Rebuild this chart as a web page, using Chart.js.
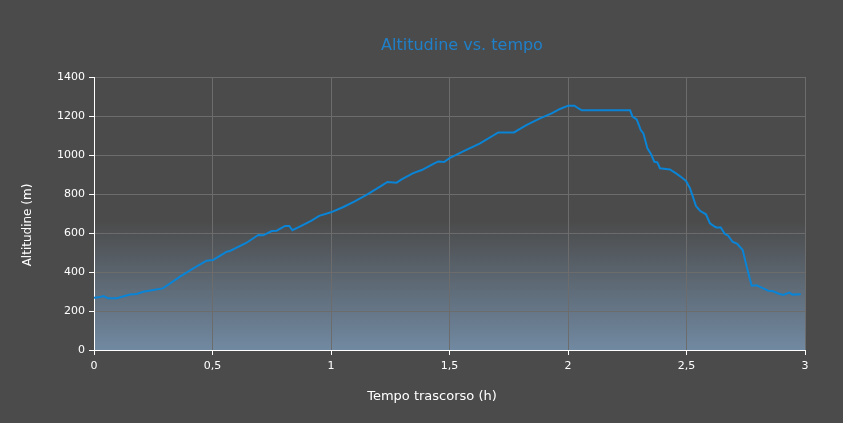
<!DOCTYPE html>
<html>
<head>
<meta charset="utf-8">
<script src="https://cdn.jsdelivr.net/npm/chart.js@4"></script>
<style>
  html, body { margin: 0; padding: 0; background: #4b4b4b; }
  #wrap { width: 843px; height: 423px; }
</style>
</head>
<body>
<div id="wrap"><canvas id="altitude" width="843" height="423"></canvas></div>
<script>
// tempo trascorso (h)
const hours = [
  0, 0.02, 0.04, 0.06, 0.096, 0.152, 0.18, 0.208, 0.25, 0.29,
  0.32, 0.363, 0.419, 0.475, 0.503, 0.56, 0.574, 0.644, 0.693, 0.714,
  0.75, 0.771, 0.806, 0.824, 0.837, 0.862, 0.918, 0.95, 1.0, 1.05,
  1.1, 1.15, 1.207, 1.238, 1.277, 1.298, 1.347, 1.383, 1.432, 1.453,
  1.477, 1.502, 1.56, 1.629, 1.706, 1.772, 1.826, 1.882, 1.931, 1.966,
  2.001, 2.027, 2.048, 2.058, 2.262, 2.272, 2.29, 2.307, 2.318, 2.335,
  2.35, 2.364, 2.377, 2.388, 2.43, 2.459, 2.48, 2.498, 2.515, 2.54,
  2.557, 2.582, 2.599, 2.62, 2.63, 2.644, 2.662, 2.676, 2.694, 2.714,
  2.737, 2.754, 2.775, 2.796, 2.824, 2.845, 2.866, 2.887, 2.908, 2.934,
  2.947, 2.982
];
// altitudine (m)
const altitudes = [
  268, 270, 277, 265, 265, 285, 287, 299, 308, 316,
  340, 376, 419, 458, 462, 504, 508, 550, 590, 588,
  610, 612, 636, 636, 614, 629, 663, 688, 706, 732,
  762, 796, 838, 862, 858, 875, 907, 923, 955, 967,
  964, 985, 1020, 1060, 1116, 1116, 1154, 1188, 1213, 1236,
  1253, 1253, 1236, 1229, 1229, 1197, 1183, 1128, 1111, 1034,
  1005, 966, 962, 932, 926, 903, 885, 867, 829, 738,
  714, 696, 650, 632, 627, 629, 595, 586, 555, 544,
  513, 427, 330, 332, 316, 304, 301, 290, 282, 294,
  284, 286
];

const chartTitle = "Altitudine vs. tempo";
const xTitle = "Tempo trascorso (h)";
const yTitle = "Altitudine (m)";

const FONT = "'DejaVu Sans', Verdana, sans-serif";

// sfondo del grafico con sfumatura
const plotBackground = {
  id: "plotBackground",
  beforeDraw(chart) {
    const { ctx, chartArea } = chart;
    const g = ctx.createLinearGradient(0, chartArea.top, 0, chartArea.bottom);
    g.addColorStop(0, "#4b4b4b");
    g.addColorStop(0.53, "#4b4b4b");
    g.addColorStop(1, "#7189a1");
    ctx.save();
    ctx.fillStyle = g;
    ctx.fillRect(chartArea.left, chartArea.top, chartArea.right - chartArea.left, chartArea.bottom - chartArea.top);
    ctx.restore();
  },
};

// titoli
const titles = {
  id: "titles",
  afterDraw(chart) {
    const { ctx } = chart;
    ctx.save();
    ctx.textAlign = "center";
    ctx.textBaseline = "middle";
    ctx.fillStyle = "#1f80c9";
    ctx.font = "16px " + FONT;
    ctx.fillText(chartTitle, 462, 46);
    ctx.fillStyle = "#ffffff";
    ctx.font = "13px " + FONT;
    ctx.fillText(xTitle, 432, 397);
    ctx.font = "12px " + FONT;
    ctx.translate(28, 225);
    ctx.rotate(-Math.PI / 2);
    ctx.fillText(yTitle, 0, 0);
    ctx.restore();
  },
};

const ctx = document.getElementById("altitude");
new Chart(ctx, {
  type: "line",
  data: {
    datasets: [
      {
        label: yTitle,
        data: hours.map((h, i) => ({ x: h, y: altitudes[i] })),
        borderColor: "#0a84d6",
        borderWidth: 2,
        pointRadius: 0,
        fill: false,
        tension: 0,
      },
    ],
  },
  options: {
    responsive: false,
    animation: false,
    layout: { padding: { top: 77, right: 38, left: 0, bottom: 0 } },
    plugins: {
      legend: { display: false },
      title: { display: false },
      tooltip: { enabled: false },
    },
    scales: {
      x: {
        type: "linear",
        min: 0,
        max: 3,
        afterFit: (s) => { s.height = 73; },
        ticks: {
          stepSize: 0.5,
          color: "#ffffff",
          padding: 5,
          maxRotation: 0,
          font: { family: FONT, size: 11 },
          callback: (v) => String(v).replace(".", ","),
        },
        grid: { color: "#6c6c6c", tickColor: "#ffffff", tickLength: 5 },
        border: { color: "#ffffff", width: 1 },
      },
      y: {
        min: 0,
        max: 1400,
        afterFit: (s) => { s.width = 94; },
        ticks: {
          stepSize: 200,
          color: "#ffffff",
          padding: 4,
          font: { family: FONT, size: 11 },
          callback: (v) => String(v),
        },
        grid: { color: "#6c6c6c", tickColor: "#ffffff", tickLength: 5 },
        border: { color: "#ffffff", width: 1 },
      },
    },
  },
  plugins: [plotBackground, titles],
});
</script>
</body>
</html>
